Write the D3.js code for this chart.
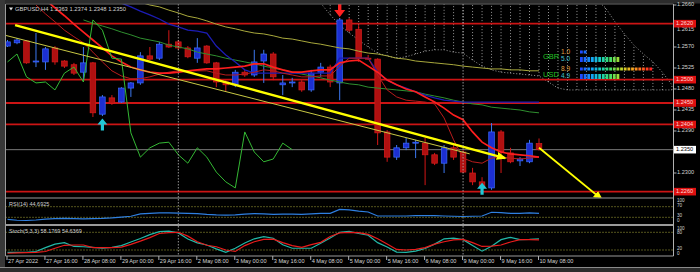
<!DOCTYPE html>
<html>
<head>
<meta charset="utf-8">
<title>GBPUSD H4</title>
<script src="https://cdn.jsdelivr.net/npm/d3@7/dist/d3.min.js"></script>
<style>
  html, body { margin: 0; padding: 0; background: #000; }
  #chart svg { display: block; }
  text { font-family: "Liberation Sans", Arial, sans-serif; }
</style>
</head>
<body>
<div id="chart"></div>
<script>
// GBPUSD H4 bars, 27 Apr 2022 00:00 .. 10 May 2022 08:00
var opens = [1.2572,1.2579,1.2583,1.2538,1.2538,1.2568,1.2540,1.2532,1.2516,1.2536,
    1.2426,1.2461,1.2452,1.2482,1.2493,1.2551,1.2546,1.2576,1.2581,1.2568,
    1.2546,1.2572,1.2536,1.2495,1.2489,1.2516,1.2510,1.2540,1.2555,1.2489,
    1.2493,1.2495,1.2478,1.2516,1.2527,1.2493,1.2628,1.2608,1.2546,1.2544,
    1.2388,1.2334,1.2354,1.2364,1.2364,1.2339,1.2321,1.2354,1.2345,1.2300,
    1.2281,1.2268,1.2388,1.2343,1.2326,1.2324,1.2363];
var highs = [1.2585,1.2589,1.2585,1.2600,1.2570,1.2572,1.2542,1.2536,1.2570,1.2538,
    1.2467,1.2467,1.2484,1.2495,1.2559,1.2570,1.2581,1.2606,1.2585,1.2572,
    1.2589,1.2574,1.2538,1.2499,1.2521,1.2521,1.2564,1.2564,1.2559,1.2510,
    1.2504,1.2499,1.2521,1.2536,1.2532,1.2632,1.2632,1.2617,1.2553,1.2546,
    1.2392,1.2360,1.2375,1.2371,1.2375,1.2343,1.2360,1.2360,1.2349,1.2311,
    1.2291,1.2407,1.2392,1.2354,1.2334,1.2371,1.2374];
var lows = [1.2570,1.2576,1.2534,1.2527,1.2521,1.2532,1.2525,1.2510,1.2499,1.2420,
    1.2422,1.2446,1.2450,1.2463,1.2489,1.2542,1.2542,1.2568,1.2564,1.2546,
    1.2536,1.2534,1.2484,1.2474,1.2484,1.2506,1.2506,1.2493,1.2499,1.2467,
    1.2484,1.2474,1.2474,1.2506,1.2484,1.2456,1.2602,1.2538,1.2542,1.2360,
    1.2324,1.2328,1.2349,1.2332,1.2274,1.2317,1.2300,1.2328,1.2300,1.2274,
    1.2264,1.2264,1.2300,1.2321,1.2315,1.2321,1.2348];
var closes = [1.2581,1.2585,1.2536,1.2540,1.2566,1.2538,1.2529,1.2514,1.2536,1.2429,
    1.2463,1.2450,1.2482,1.2493,1.2551,1.2544,1.2576,1.2570,1.2568,1.2549,
    1.2568,1.2536,1.2495,1.2489,1.2516,1.2510,1.2538,1.2555,1.2506,1.2493,
    1.2495,1.2478,1.2514,1.2527,1.2495,1.2628,1.2606,1.2546,1.2544,1.2386,
    1.2334,1.2354,1.2364,1.2366,1.2339,1.2321,1.2354,1.2334,1.2302,1.2281,
    1.2268,1.2388,1.2345,1.2324,1.2330,1.2364,1.2350];

// indicator lines (null = not visible)
var tenkan = [null,null,null,null,1.2671,1.2654,1.2637,1.2619,1.2602,1.2585,
    1.2568,1.2551,1.2538,1.2527,1.2521,1.2516,1.2514,1.2514,1.2516,1.2519,
    1.2521,1.2523,1.2523,1.2525,1.2527,1.2529,1.2534,1.2534,1.2527,1.2521,
    1.2516,1.2516,1.2519,1.2521,1.2521,1.2536,1.2540,1.2542,1.2529,1.2516,
    1.2499,1.2489,1.2480,1.2474,1.2463,1.2452,1.2439,1.2424,1.2414,1.2388,
    1.2366,1.2354,1.2345,1.2341,1.2339,1.2337,1.2334];
var redMa = [null,null,null,1.2660,1.2641,1.2624,1.2606,1.2592,1.2579,1.2559,
    1.2538,1.2519,1.2508,1.2502,1.2502,1.2506,1.2512,1.2516,1.2519,1.2519,
    1.2519,1.2519,1.2514,1.2510,1.2510,1.2512,1.2516,1.2521,1.2519,1.2514,
    1.2510,1.2506,1.2506,1.2508,1.2508,1.2529,1.2546,1.2546,1.2546,1.2510,
    1.2478,1.2463,1.2456,1.2454,1.2452,1.2448,1.2418,1.2371,1.2332,1.2324,
    1.2321,1.2332,1.2334,1.2332,1.2330,1.2332,1.2334];
var kijun = [null,null,null,null,null,null,null,null,null,null,null,null,
    1.2664,1.2656,1.2647,1.2639,1.2630,1.2619,1.2613,1.2606,
    1.2604,1.2600,1.2572,1.2553,1.2538,1.2521,1.2514,1.2514,1.2514,1.2514,
    1.2514,1.2514,1.2514,1.2514,1.2514,1.2546,1.2546,1.2546,1.2546,1.2516,
    1.2499,1.2489,1.2482,1.2474,1.2467,1.2461,1.2456,1.2454,1.2452,1.2452,
    1.2452,1.2452,1.2452,1.2452,1.2452,1.2452,1.2452];
var greenMa = [null,null,null,null,null,null,null,null,1.2628,1.2621,
    1.2615,1.2609,1.2602,1.2596,1.2589,1.2585,1.2581,1.2574,1.2570,1.2566,
    1.2559,1.2555,1.2551,1.2546,1.2542,1.2538,1.2534,1.2529,1.2525,1.2521,
    1.2516,1.2512,1.2508,1.2504,1.2499,1.2495,1.2491,1.2489,1.2484,1.2482,
    1.2480,1.2478,1.2476,1.2474,1.2469,1.2465,1.2461,1.2456,1.2452,1.2448,
    1.2446,1.2441,1.2439,1.2437,1.2435,1.2431,1.2429];
var oliveMa = [null,null,null,null,null,null,null,null,null,null,
    null,null,null,null,1.2666,1.2660,1.2656,1.2649,1.2643,1.2636,
    1.2632,1.2626,1.2619,1.2613,1.2609,1.2604,1.2600,1.2598,1.2594,1.2589,
    1.2587,1.2583,1.2579,1.2576,1.2572,1.2568,1.2566,1.2561,1.2557,1.2555,
    1.2551,1.2546,1.2544,1.2540,1.2538,1.2536,1.2534,1.2532,1.2529,1.2527,
    1.2525,1.2523,1.2523,1.2521,1.2521,1.2519,1.2519];

// ichimoku cloud, bars 33..70 (shifted ahead)
var cloudStart = 33;
var spanA = [1.2664,1.2639,1.2617,1.2600,1.2585,1.2570,1.2557,1.2551,1.2546,1.2549,
    1.2555,1.2561,1.2564,1.2564,1.2559,1.2557,1.2542,1.2529,1.2521,1.2516,
    1.2514,1.2512,1.2510,1.2508,1.2495,1.2482,1.2478,1.2478,1.2478,1.2478,
    1.2478,1.2478,1.2478,1.2478,1.2478,1.2478,1.2478,1.2478];
var spanB = [1.2712,1.2712,1.2710,1.2710,1.2708,1.2708,1.2706,1.2706,1.2706,1.2704,
    1.2704,1.2704,1.2702,1.2702,1.2702,1.2700,1.2700,1.2700,1.2698,1.2698,
    1.2696,1.2696,1.2694,1.2694,1.2692,1.2690,1.2688,1.2686,1.2680,1.2672,
    1.2654,1.2624,1.2598,1.2574,1.2555,1.2538,1.2516,1.2489];

var rsi = [22.6,19,18,20,23,25,26,25,24,25, 26,28,31,34,43,45,47,47,46,45,
    44,41,39,38,39,42,44,43,41,42, 42,41,43,45,45,60,58,53,50,35,
    35,35,35,36,36,36,35,34,33,34, 35,49,48,45,45,47,44.69];
var stochMain = [12,12,12,15,28,40,45,32,31,29, 26,29,35,47,59,72,82,84,78,57,
    44,37,24,12,26,44,58,65,60,38, 26,26,26,43,61,80,83,76,70,45,
    30,13,12,16,25,40,58,60,55,35, 16,33,55,63,55,56,58.18];
var stochSignal = [9,10,11,12,15,26,36,37,37,28, 28,28,30,39,50,62,76,79,80,67,
    48,36,31,20,15,35,48,56,57,45, 35,29,38,46,66,78,80,79,73,58,
    40,22,20,22,28,40,48,54,56,45, 32,33,37,47,55,55,54.64];

// drawn objects
var levelPrices = [1.2620, 1.2500, 1.2450, 1.2404, 1.2260];
var bidPrice = 1.2350;
var trendIdx = [0.8, 52.4], trendPrice = [1.2617, 1.2332];
var channelIdx = [-0.8, 48.7], channelPrice = [1.2598, 1.2341];
var forecastIdx = [56, 62.6], forecastPrice = [1.2354, 1.2244];
var upArrowIdx = [10, 50], upArrowPrice = [1.2419, 1.2281];
var downArrowIdx = [35], downArrowPrice = [1.2632];
var separatorIdx = [18, 48];

// price labels that are not covered by the level tags
var priceTicks = [1.2660, 1.2615, 1.2570, 1.2525, 1.2480, 1.2435, 1.2390, 1.2300];
var timeIdx = [0, 4, 8, 12, 16, 20, 24, 28, 32, 36, 40, 44, 48, 52, 56];
var timeLabels = ["27 Apr 2022", "27 Apr 16:00", "28 Apr 08:00", "29 Apr 00:00", "29 Apr 16:00",
    "2 May 08:00", "3 May 00:00", "3 May 16:00", "4 May 08:00", "5 May 00:00", "5 May 16:00",
    "6 May 08:00", "9 May 00:00", "9 May 16:00", "10 May 08:00"];

var strengthNames = ["GBR", "USD"];
var strengthValues = [1.0, 5.0, 8.9, 4.9];

var W = 700, H = 272,
    paneL = 5.5, paneR = 673.5,
    mainTop = 4, mainBot = 197.5,
    rsiTop = 198.5, rsiBot = 224.5,
    stoTop = 225.5, stoBot = 256;

var x = d3.scaleLinear().domain([0, 56]).range([7.5, 539]);
var y = d3.scaleLinear().domain([1.2660, 1.2300]).range([5, 173]);
var yRsi = d3.scaleLinear().domain([0, 100]).range([225.3, 198.7]);
var ySto = d3.scaleLinear().domain([0, 100]).range([255.9, 226.4]);

var svg = d3.select("#chart")
    .append("svg")
    .attr("width", W)
    .attr("height", H);

svg.append("rect").attr("width", W).attr("height", H).attr("fill", "#000");

var defs = svg.append("defs");
function clip(id, y0, y1) {
    defs.append("clipPath").attr("id", id)
        .append("rect")
        .attr("x", paneL).attr("y", y0)
        .attr("width", paneR - paneL).attr("height", y1 - y0);
}
clip("clipMain", mainTop, mainBot);
clip("clipRsi", rsiTop, rsiBot);
clip("clipSto", stoTop, stoBot);

defs.append("marker")
    .attr("id", "arrowY")
    .attr("viewBox", "0 0 10 8")
    .attr("refX", 8).attr("refY", 4)
    .attr("markerWidth", 10).attr("markerHeight", 8)
    .attr("markerUnits", "userSpaceOnUse")
    .attr("orient", "auto")
    .append("path")
    .attr("d", "M0,0 L10,4 L0,8 Z")
    .attr("fill", "#ffff00");

// frame around the chart window
svg.append("rect").attr("x", 0).attr("y", 0).attr("width", W).attr("height", 3.5).attr("fill", "#2c2c2c");
svg.append("rect").attr("x", 0).attr("y", 0).attr("width", 5).attr("height", H).attr("fill", "#383838");
svg.append("rect").attr("x", 0).attr("y", 268).attr("width", W).attr("height", 4).attr("fill", "#2c2c2c");
svg.append("line").attr("x1", 0).attr("x2", W).attr("y1", 267.5).attr("y2", 267.5).attr("stroke", "#8a8a8a");

var main = svg.append("g").attr("clip-path", "url(#clipMain)");

// ichimoku cloud hatching
var cloudIdx = d3.range(spanA.length);
main.selectAll("line.kumo")
    .data(cloudIdx)
    .enter().append("line")
    .attr("class", "kumo")
    .attr("x1", function(d) { return x(d + cloudStart); })
    .attr("x2", function(d) { return x(d + cloudStart); })
    .attr("y1", function(d) { return y(spanA[d]); })
    .attr("y2", function(d) { return y(spanB[d]); })
    .attr("stroke", "#bcbcbc")
    .attr("stroke-width", 0.8)
    .attr("stroke-dasharray", "1,2");

var spanLine = d3.line()
    .x(function(d, i) { return x(i + cloudStart); })
    .y(function(d) { return y(d); });
[spanA, spanB].forEach(function(s) {
    main.append("path")
        .attr("d", spanLine(s))
        .attr("fill", "none")
        .attr("stroke", "#c4c4c4")
        .attr("stroke-width", 0.8)
        .attr("stroke-dasharray", "1,2");
});

// horizontal levels
main.selectAll("line.level")
    .data(levelPrices)
    .enter().append("line")
    .attr("class", "level")
    .attr("x1", paneL).attr("x2", paneR)
    .attr("y1", function(d) { return y(d); })
    .attr("y2", function(d) { return y(d); })
    .attr("stroke", "#cc1414")
    .attr("stroke-width", 1.8);

main.append("line")
    .attr("x1", paneL).attr("x2", paneR)
    .attr("y1", y(bidPrice)).attr("y2", y(bidPrice))
    .attr("stroke", "#7a7a7a");

// period separators
svg.selectAll("line.sep")
    .data(separatorIdx)
    .enter().append("line")
    .attr("class", "sep")
    .attr("x1", function(d) { return x(d); })
    .attr("x2", function(d) { return x(d); })
    .attr("y1", mainTop).attr("y2", stoBot)
    .attr("stroke", "#b8b8b8")
    .attr("stroke-width", 0.8)
    .attr("stroke-dasharray", "1.5,1.5");

// candles
var bars = d3.range(closes.length);
var candle = main.selectAll("g.bar")
    .data(bars)
    .enter().append("g")
    .attr("class", "bar");

candle.append("line")
    .attr("x1", function(d) { return x(d); })
    .attr("x2", function(d) { return x(d); })
    .attr("y1", function(d) { return y(highs[d]); })
    .attr("y2", function(d) { return y(lows[d]); })
    .attr("stroke", function(d) { return closes[d] >= opens[d] ? "#3c78f0" : "#d41616"; });

candle.append("rect")
    .attr("x", function(d) { return x(d) - 2.8; })
    .attr("width", 5.6)
    .attr("y", function(d) { return y(Math.max(opens[d], closes[d])); })
    .attr("height", function(d) { return Math.max(1, Math.abs(y(opens[d]) - y(closes[d]))); })
    .attr("fill", function(d) { return closes[d] >= opens[d] ? "#1c2fd2" : "#b01010"; })
    .attr("stroke", function(d) { return closes[d] >= opens[d] ? "#3a6cff" : "#d81c1c"; })
    .attr("stroke-width", 0.7);

// indicator lines
var line = d3.line()
    .defined(function(d) { return d != null; })
    .x(function(d, i) { return x(i); })
    .y(function(d) { return y(d); });

function drawLine(g, data, color, width) {
    g.append("path")
        .attr("d", line(data))
        .attr("fill", "none")
        .attr("stroke", color)
        .attr("stroke-width", width);
}
drawLine(main, oliveMa, "#a8a83c", 1);
drawLine(main, greenMa, "#2f8f2f", 1);
drawLine(main, kijun, "#1c1cb4", 1.3);
drawLine(main, redMa, "#b81c1c", 1);
drawLine(main, tenkan, "#ff1e1e", 1.7);
// lagging span = closes shifted back 26 bars
drawLine(main, closes.slice(26), "#34b834", 1);

// trend lines
var objLine = d3.line()
    .x(function(d) { return x(d[0]); })
    .y(function(d) { return y(d[1]); });

main.append("path")
    .attr("d", objLine(d3.zip(channelIdx, channelPrice)))
    .attr("fill", "none")
    .attr("stroke", "#c8c844")
    .attr("stroke-width", 1);

main.append("path")
    .attr("d", objLine(d3.zip(trendIdx, trendPrice)))
    .attr("fill", "none")
    .attr("stroke", "#ffff00")
    .attr("stroke-width", 2.4)
    .attr("marker-end", "url(#arrowY)");

svg.append("g").attr("clip-path", "url(#clipMain)")
    .append("path")
    .attr("d", objLine(d3.zip(forecastIdx, forecastPrice)))
    .attr("fill", "none")
    .attr("stroke", "#ffff00")
    .attr("stroke-width", 1.8)
    .attr("marker-end", "url(#arrowY)");

// signal arrows
main.selectAll("path.up")
    .data(upArrowIdx)
    .enter().append("path")
    .attr("class", "up")
    .attr("transform", function(d, i) { return "translate(" + x(d) + "," + (y(upArrowPrice[i]) + 1) + ")"; })
    .attr("d", "M0,0 L5,6 L1.6,6 L1.6,12 L-1.6,12 L-1.6,6 L-5,6 Z")
    .attr("fill", "#22c8d6");

main.selectAll("path.down")
    .data(downArrowIdx)
    .enter().append("path")
    .attr("class", "down")
    .attr("transform", function(d, i) { return "translate(" + x(d) + "," + (y(downArrowPrice[i]) - 1) + ")"; })
    .attr("d", "M0,0 L-5.5,-7 L-1.7,-7 L-1.7,-15 L1.7,-15 L1.7,-7 L5.5,-7 Z")
    .attr("fill", "#ff2020");

// currency strength panel
var strengthRowY = [52, 59.5, 69, 76.5],
    strengthRowH = [3, 5, 3, 5],
    strengthNumColor = ["#e0a040", "#40c0d0", "#e0a040", "#40c0d0"],
    blockColor = d3.interpolateRgbBasis(["#1e4cff", "#10c8ff", "#20e060", "#e8e020", "#ff8a20", "#ff2020"]);

svg.selectAll("text.cname")
    .data(strengthNames)
    .enter().append("text")
    .attr("class", "cname")
    .attr("x", 543)
    .attr("y", function(d, i) { return i === 0 ? 57 : 75; })
    .attr("dominant-baseline", "middle")
    .attr("font-size", 7.5)
    .attr("fill", "#22c022")
    .text(function(d) { return d; });

svg.selectAll("text.cval")
    .data(strengthValues)
    .enter().append("text")
    .attr("class", "cval")
    .attr("x", 561)
    .attr("y", function(d, i) { return strengthRowY[i]; })
    .attr("dominant-baseline", "middle")
    .attr("font-size", 6.5)
    .attr("fill", function(d, i) { return strengthNumColor[i]; })
    .text(function(d) { return d.toFixed(1); });

strengthValues.forEach(function(v, r) {
    var n = Math.round(v * 2.25);
    svg.selectAll("rect.blk" + r)
        .data(d3.range(n))
        .enter().append("rect")
        .attr("x", function(k) { return 580 + k * 3.65; })
        .attr("y", strengthRowY[r] - strengthRowH[r] / 2)
        .attr("width", 2.8)
        .attr("height", strengthRowH[r])
        .attr("fill", function(k) { return blockColor(k / 19); });
});

// RSI pane
var rsiG = svg.append("g").attr("clip-path", "url(#clipRsi)");
[70, 30].forEach(function(v) {
    rsiG.append("line")
        .attr("x1", paneL).attr("x2", paneR)
        .attr("y1", yRsi(v)).attr("y2", yRsi(v))
        .attr("stroke", "#a8a83a")
        .attr("stroke-dasharray", "1,2");
});
rsiG.append("path")
    .attr("d", d3.line().x(function(d, i) { return x(i); }).y(function(d) { return yRsi(d); })(rsi))
    .attr("fill", "none")
    .attr("stroke", "#2f7fe0")
    .attr("stroke-width", 1.2);

// Stochastic pane
var stoG = svg.append("g").attr("clip-path", "url(#clipSto)");
[80, 20].forEach(function(v) {
    stoG.append("line")
        .attr("x1", paneL).attr("x2", paneR)
        .attr("y1", ySto(v)).attr("y2", ySto(v))
        .attr("stroke", "#a8a83a")
        .attr("stroke-dasharray", "1,2");
});
var stoLine = d3.line().x(function(d, i) { return x(i); }).y(function(d) { return ySto(d); });
stoG.append("path").attr("d", stoLine(stochMain))
    .attr("fill", "none").attr("stroke", "#22b8a8").attr("stroke-width", 1.2);
stoG.append("path").attr("d", stoLine(stochSignal))
    .attr("fill", "none").attr("stroke", "#e81c1c").attr("stroke-width", 1.2);

// pane borders
[rsiTop - 0.5, rsiBot, stoTop, stoBot].forEach(function(v) {
    svg.append("line")
        .attr("x1", paneL).attr("x2", paneR)
        .attr("y1", v).attr("y2", v)
        .attr("stroke", "#9a9a9a")
        .attr("stroke-width", 1.2);
});
svg.append("line").attr("x1", paneL).attr("x2", paneL).attr("y1", mainTop).attr("y2", stoBot).attr("stroke", "#9a9a9a");
svg.append("line").attr("x1", paneR).attr("x2", paneR).attr("y1", mainTop).attr("y2", stoBot).attr("stroke", "#b0b0b0");
svg.append("line").attr("x1", paneL).attr("x2", paneR).attr("y1", mainTop).attr("y2", mainTop).attr("stroke", "#6a6a6a");

// price axis
var axisG = svg.append("g");
axisG.selectAll("line.pt")
    .data(priceTicks)
    .enter().append("line")
    .attr("x1", paneR).attr("x2", paneR + 3)
    .attr("y1", function(d) { return y(d); })
    .attr("y2", function(d) { return y(d); })
    .attr("stroke", "#b0b0b0");
axisG.selectAll("text.pt")
    .data(priceTicks)
    .enter().append("text")
    .attr("x", 677)
    .attr("y", function(d) { return y(d) + (d === 1.2615 ? 3.8 : 0); })
    .attr("dominant-baseline", "middle")
    .attr("font-size", 5.6)
    .attr("fill", "#d4d4d4")
    .text(function(d) { return d.toFixed(4); });

var tagG = axisG.selectAll("g.tag")
    .data(levelPrices)
    .enter().append("g");
tagG.append("rect")
    .attr("x", 674).attr("width", 22)
    .attr("y", function(d) { return y(d) - 3.8; })
    .attr("height", 7.6)
    .attr("fill", "#dd1010");
tagG.append("text")
    .attr("x", 676)
    .attr("y", function(d) { return y(d); })
    .attr("dominant-baseline", "middle")
    .attr("font-size", 5.6)
    .attr("fill", "#ffd6d6")
    .text(function(d) { return d.toFixed(4); });

axisG.append("rect")
    .attr("x", 674).attr("width", 22)
    .attr("y", y(bidPrice) - 3.8).attr("height", 7.6)
    .attr("fill", "#ffffff");
axisG.append("text")
    .attr("x", 676).attr("y", y(bidPrice))
    .attr("dominant-baseline", "middle")
    .attr("font-size", 5.6)
    .attr("fill", "#000")
    .text(bidPrice.toFixed(4));

// sub-pane scale labels
var subLabels = [
    {v: "100", yy: 200.8}, {v: "70", yy: 206}, {v: "30", yy: 216}, {v: "0", yy: 221},
    {v: "100", yy: 228.3}, {v: "80", yy: 232.5}, {v: "20", yy: 249}, {v: "0", yy: 253.5}
];
axisG.selectAll("text.sub")
    .data(subLabels)
    .enter().append("text")
    .attr("x", 677)
    .attr("y", function(d) { return d.yy; })
    .attr("dominant-baseline", "middle")
    .attr("font-size", 4.6)
    .attr("fill", "#d4d4d4")
    .text(function(d) { return d.v; });

// time axis
svg.selectAll("line.tt")
    .data(timeIdx)
    .enter().append("line")
    .attr("x1", function(d) { return x(d) - 0.5; })
    .attr("x2", function(d) { return x(d) - 0.5; })
    .attr("y1", stoBot).attr("y2", stoBot + 4)
    .attr("stroke", "#b0b0b0");
svg.selectAll("text.tt")
    .data(timeIdx)
    .enter().append("text")
    .attr("x", function(d) { return x(d) + 0.5; })
    .attr("y", 263)
    .attr("font-size", 5.6)
    .attr("fill", "#d4d4d4")
    .text(function(d, i) { return timeLabels[i]; });

// pane captions
svg.append("path").attr("d", "M9,7.5 L13,7.5 L11,10.5 Z").attr("fill", "#e0e0e0");
svg.append("text").attr("x", 15).attr("y", 11.2).attr("font-size", 5.8).attr("fill", "#d0d0d0")
    .text("GBPUSD,H4  " + [opens[56], highs[56], lows[56], closes[56]].map(function(v) { return v.toFixed(4); }).join(" "));
svg.append("text").attr("x", 9).attr("y", 206).attr("font-size", 5.5).attr("fill", "#d0d0d0")
    .text("RSI(14) 44.6925");
svg.append("text").attr("x", 9).attr("y", 232.5).attr("font-size", 5.5).attr("fill", "#d0d0d0")
    .text("Stoch(5,3,3) 58.1769 54.6369");
</script>
</body>
</html>
